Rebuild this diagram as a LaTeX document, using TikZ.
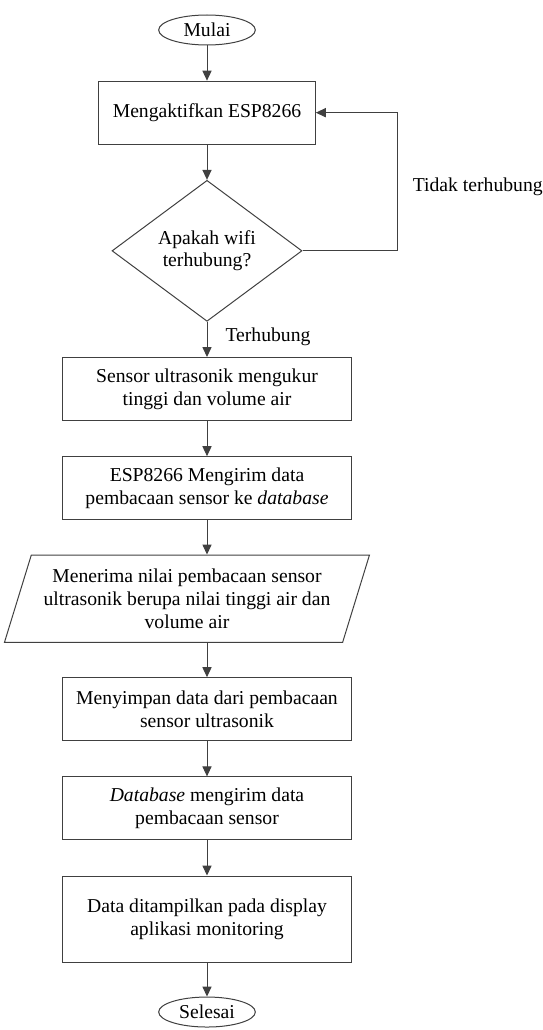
\documentclass[tikz,border=0pt]{standalone}
\usepackage{fontspec}
\setmainfont{Liberation Serif}
\usetikzlibrary{positioning,shapes.geometric,arrows.meta}

\begin{document}
\begin{tikzpicture}[node distance=21.1pt,
    every node/.style={font=\fontsize{11.8}{13.6}\selectfont,align=center},
    garis/.style={draw=black!75,line width=0.6pt},
    arr/.style={garis,-{Triangle[length=6pt,width=5.5pt]}},
    terminal/.style={ellipse,garis,inner sep=0pt,minimum width=58pt,minimum height=18pt},
    proses/.style={rectangle,garis,inner sep=2pt,minimum width=173.4pt,minimum height=37.8pt},
    keputusan/.style={diamond,garis,inner sep=0pt,minimum width=114pt,minimum height=84.6pt},
    data/.style={trapezium,trapezium left angle=65.6,trapezium right angle=114.4,trapezium stretches body,garis,inner sep=0pt,minimum width=219pt,minimum height=52.4pt},
    lbl/.style={inner sep=0pt}]
  \useasboundingbox (0,0) rectangle (325.2pt,-618pt);
  \node[terminal](mulai) at (124.2pt,-18pt){Mulai};
  \node[proses,below=of mulai,minimum width=130pt](aktif){Mengaktifkan ESP8266};
  \node[keputusan,below=of aktif](wifi){Apakah wifi\\terhubung?};
  \node[proses,below=of wifi](sensor){Sensor ultrasonik mengukur\\tinggi dan volume air};
  \node[proses,below=of sensor](kirim){ESP8266 Mengirim data\\pembacaan sensor ke \textit{database}};
  \node[data,below=20.6pt of kirim,xshift=-12pt](terima){Menerima nilai pembacaan sensor\\ultrasonik berupa nilai tinggi air dan\\volume air};
  \node[proses,below=20.6pt of terima,xshift=12pt](simpan){Menyimpan data dari pembacaan\\sensor ultrasonik};
  \node[proses,below=of simpan](dbkirim){\textit{Database} mengirim data\\pembacaan sensor};
  \node[proses,below=of dbkirim,minimum height=52pt](tampil){Data ditampilkan pada display\\aplikasi monitoring};
  \node[terminal,below=20pt of tampil](selesai){Selesai};

  \draw[arr] (mulai) -- (aktif);
  \draw[arr] (aktif) -- (wifi);
  \draw[arr] (wifi.south) -- node[lbl,right=10.8pt,yshift=1.8pt]{Terhubung} (sensor.north);
  \draw[arr] (wifi.east) -- ++(57pt,0) coordinate (belok) |- (aktif.east);
  \node[lbl,right=9pt of belok,yshift=38.4pt](tidak){Tidak terhubung};
  \draw[arr] (sensor) -- (kirim);
  \draw[arr] (kirim.south) -- (kirim.south |- terima.north);
  \draw[arr] (terima.south -| simpan.north) -- (simpan.north);
  \draw[arr] (simpan) -- (dbkirim);
  \draw[arr] (dbkirim) -- (tampil);
  \draw[arr] (tampil) -- (selesai);
\end{tikzpicture}
\end{document}
